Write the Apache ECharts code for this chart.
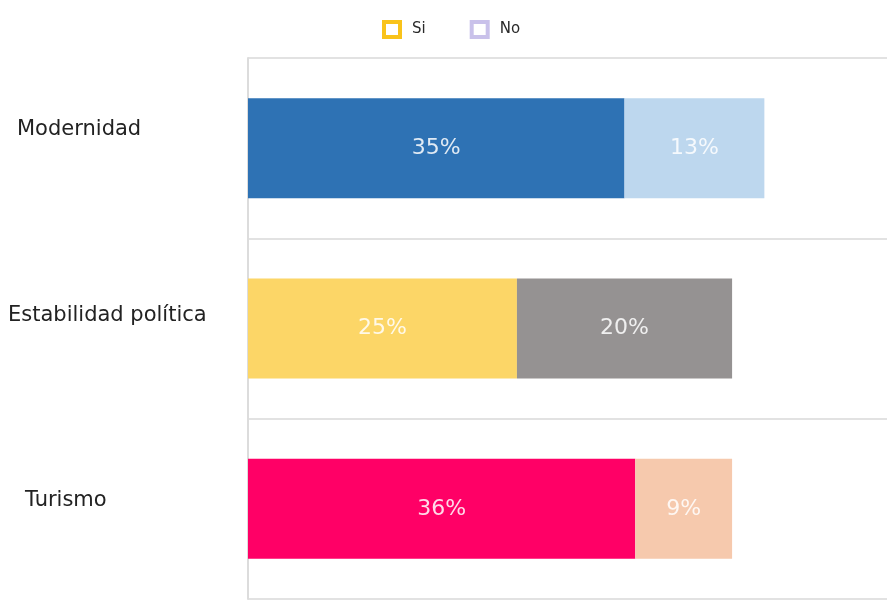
<!DOCTYPE html>
<html>
<head>
<meta charset="utf-8">
<script src="https://cdn.jsdelivr.net/npm/echarts@6/dist/echarts.min.js"></script>
<style>
  html, body { margin: 0; padding: 0; background: #fff; }
  #chart { width: 887px; height: 601px; }
</style>
</head>
<body>
<div id="chart"></div>
<script>
// datos
var categories = ['Modernidad', 'Estabilidad política', 'Turismo']
var siValues = [35, 25, 36]
var noValues = [13, 20, 9]

// colores por barra
var siColors = ['#2e72b4', '#fcd667', '#ff0066']
var noColors = ['#bdd7ee', '#959292', '#f6c9ad']

// desplazamiento de cada etiqueta del eje (como en el original)
var labelPads = [[0, 0, 38, 9], [0, 0, 26, 0], [0, 0, 16, 17]]

var myChart = echarts.init(document.getElementById('chart'))

var rich = {}
labelPads.forEach(function (p, i) {
  rich['c' + i] = { fontSize: 21, color: '#222', fontFamily: 'DejaVu Sans', padding: p }
})

var barLabel = {
  show: true,
  position: 'inside',
  formatter: '{c}%',
  color: 'rgba(255,255,255,0.85)',
  fontSize: 22,
  fontFamily: 'DejaVu Sans'
}

var option = {
  animation: false,
  legend: {
    top: 15,
    left: 377,
    itemWidth: 16,
    itemHeight: 15,
    itemGap: 44,
    textStyle: { fontSize: 15, color: '#2a2a2a', fontFamily: 'DejaVu Sans', padding: [0, 0, 0, 7] },
    data: [
      { name: 'Si', icon: 'rect', itemStyle: { color: '#fff', borderColor: '#f9c31a', borderWidth: 4 } },
      { name: 'No', icon: 'rect', itemStyle: { color: '#fff', borderColor: '#c9c1ea', borderWidth: 4 } }
    ]
  },
  grid: { left: 248, right: 0, top: 58, bottom: 2 },
  xAxis: {
    type: 'value',
    min: 0,
    max: 59.4,
    axisLine: { show: false },
    axisTick: { show: false },
    axisLabel: { show: false },
    splitLine: { show: false }
  },
  yAxis: {
    type: 'category',
    inverse: true,
    data: categories,
    axisLine: { show: true, lineStyle: { color: '#dcdcdc', width: 2 } },
    axisTick: { show: false },
    splitLine: { show: true, lineStyle: { color: '#e2e2e2', width: 2 } },
    axisLabel: {
      align: 'left',
      margin: 240,
      formatter: function (v, i) { return '{c' + i + '|' + v + '}' },
      rich: rich
    }
  },
  series: [
    {
      name: 'Si',
      type: 'bar',
      stack: 'total',
      barWidth: 100,
      label: barLabel,
      data: siValues.map(function (v, i) {
        return { value: v, itemStyle: { color: siColors[i] } }
      })
    },
    {
      name: 'No',
      type: 'bar',
      stack: 'total',
      barWidth: 100,
      label: barLabel,
      data: noValues.map(function (v, i) {
        return { value: v, itemStyle: { color: noColors[i] } }
      })
    }
  ]
}

myChart.setOption(option)
</script>
</body>
</html>
